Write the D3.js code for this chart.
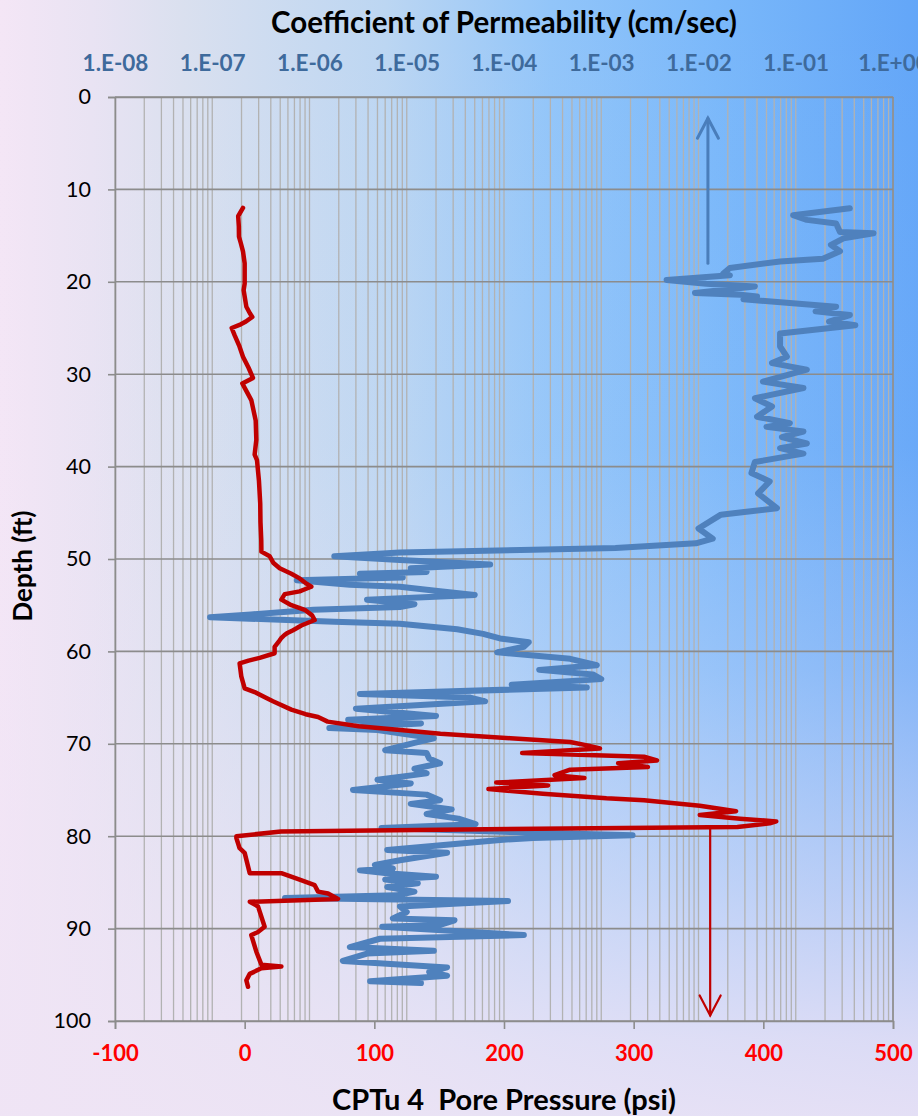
<!DOCTYPE html>
<html><head><meta charset="utf-8">
<script src="https://cdn.jsdelivr.net/npm/d3@7"></script>
<style>html,body{margin:0;padding:0;overflow:hidden;background:#fff}</style>
</head><body><svg id="c" width="918" height="1116"></svg>
<script>
// ---- data ----
const depthTicks = [0,10,20,30,40,50,60,70,80,90,100];
const pressureTicks = [-100,0,100,200,300,400,500];
const permTicks = [1e-8,1e-7,1e-6,1e-5,1e-4,1e-3,1e-2,1e-1,1];
const permTickLabels = ["1.E-08","1.E-07","1.E-06","1.E-05","1.E-04","1.E-03","1.E-02","1.E-01","1.E+00"];

// CPTu 4 pore pressure: depth (ft), pressure (psi)
const poreDepth = [12.0,12.9,14.0,15.1,15.8,16.7,18.0,20.2,20.9,22.7,23.4,23.8,24.3,24.6,25.0,25.8,27.0,28.1,29.3,30.4,31.0,32.0,32.8,35.0,37.1,38.7,39.3,41.5,44.0,46.0,48.0,49.2,49.7,50.4,51.0,51.6,52.1,52.6,53.0,53.3,53.5,53.8,54.4,55.0,55.5,56.1,56.6,57.2,57.5,57.7,58.0,58.2,58.6,58.8,59.5,60.2,60.7,61.0,61.3,62.7,64.0,64.4,65.0,65.4,66.3,66.8,67.1,67.6,68.1,68.5,68.9,69.4,69.8,70.2,70.5,71.0,71.4,71.8,72.1,72.5,72.8,73.4,73.7,74.2,74.5,74.9,75.4,75.9,76.1,76.7,77.3,77.7,78.1,78.4,78.6,79.0,79.3,79.5,80.0,80.2,81.3,81.8,84.0,84.0,84.7,85.3,86.0,86.2,86.8,87.1,87.6,89.8,90.4,90.7,92.5,93.9,94.1,94.3,94.9,95.6,96.3];
const porePsi = [-1.3,-5,-4.5,-4.4,-3,-1.3,0,0,-0.8,1.3,4,5.9,1,-3,-10,-7.7,-4,-1.3,3,6.4,-1.8,2,5.1,8.5,9.0,7.7,9.5,11.0,12,12.2,12.8,12.9,19.3,22,27,36,42.4,47,51.4,46,42.4,30.9,28.3,36,46.3,52,54,43.7,40,37.3,33,30.9,28,27,23.1,23.1,11.6,3,-3.9,-2.6,0,7.7,16,21.8,36,47,56.6,64,88,120,151,205,251,265,274,214,308,318,288,311,251,239,262,194,234,188,230,279,308,351,379,351,382,410,405,380,150,28,-6.4,-6.4,-3.9,0,3.9,28.3,42.4,54,56.6,64.3,72,3.9,10.3,15.4,10,5.1,9,12.9,28.3,12.9,3.9,1.3,2.6];

// Coefficient of permeability: depth (ft), k (cm/sec)
const permDepth = [12.05,12.8,13.3,13.7,14.6,14.75,15.3,16.0,16.7,17.5,17.8,18.5,19.1,19.3,19.8,20.2,20.5,21.2,21.4,21.6,21.9,22.7,23.2,23.6,24.3,24.7,25.6,27.0,28.1,28.8,29.5,30.1,30.8,31.5,32.6,33.5,34.6,35.3,35.7,36.2,36.8,37.5,38.0,38.6,39.5,40.7,41.6,42.9,44.5,45.2,46.7,47.8,48.3,48.8,49.0,49.3,49.7,50.1,50.6,51.0,51.4,51.6,52.0,52.3,52.8,53.0,53.5,53.9,54.4,54.9,55.2,55.5,56.0,56.3,56.5,56.8,57.0,57.6,58.1,58.6,59.0,59.5,60.1,60.8,61.5,62.0,62.5,63.0,63.6,63.9,64.6,65.0,65.4,66.2,67.0,67.4,67.8,68.3,68.5,69.4,69.9,70.7,71.0,71.6,72.1,72.7,73.2,73.9,74.3,75.0,75.5,76.1,76.5,77.1,77.6,78.1,78.7,79.1,79.5,79.9,80.2,80.4,81.5,81.8,82.6,83.1,83.5,83.7,84.0,84.4,84.7,85.1,85.5,86.0,86.4,86.7,87.0,87.6,88.2,88.9,89.1,89.6,89.8,90.7,91.1,92.0,92.4,92.7,93.5,94.2,94.7,95.1,95.7,95.9];
const permK = [0.36,0.094,0.13,0.26,0.285,0.63,0.31,0.23,0.285,0.19,0.069,0.021,0.018,0.021,0.0047,0.012,0.038,0.0092,0.027,0.040,0.029,0.26,0.16,0.36,0.22,0.41,0.069,0.069,0.081,0.057,0.13,0.081,0.046,0.12,0.038,0.057,0.040,0.087,0.050,0.12,0.072,0.13,0.069,0.12,0.038,0.035,0.054,0.041,0.064,0.017,0.010,0.014,0.0094,0.0014,2.0e-4,8.5e-6,1.8e-6,8.5e-6,7.2e-5,1.1e-5,1.6e-5,3.3e-6,9.1e-6,7.4e-7,2.6e-6,8.5e-6,2.2e-5,5.0e-5,3.9e-6,1.2e-5,8.5e-6,1.1e-6,2.5e-7,9.5e-8,3.1e-7,1.8e-6,8.5e-6,3.3e-5,6.1e-5,9.1e-5,1.8e-4,1.6e-4,8.5e-5,4.8e-4,9.0e-4,2.3e-4,8.2e-4,1.0e-3,1.2e-4,7.1e-4,3.3e-6,4.5e-5,6.4e-5,3.0e-6,2.0e-5,2.5e-6,1.4e-5,1.6e-6,5.0e-6,1.9e-5,1.2e-5,6.0e-6,1.6e-5,1.7e-5,2.2e-5,1.2e-5,1.6e-5,5.0e-6,1.1e-5,2.8e-6,1.6e-5,2.2e-5,1.1e-5,2.9e-5,1.6e-5,3.4e-5,5.1e-5,5.5e-6,8.3e-5,2.1e-3,2.0e-4,9.1e-5,6.3e-6,2.6e-5,8.5e-6,4.7e-6,7.2e-6,3.3e-6,6.3e-6,2.0e-5,6.0e-6,1.3e-5,6.3e-6,1.2e-5,7.9e-6,5.6e-7,1.1e-4,8.5e-6,1.0e-5,7.2e-6,3.1e-5,2.2e-5,5.6e-6,1.6e-4,5.3e-6,2.6e-6,1.9e-5,3.9e-6,2.2e-6,2.6e-5,1.7e-5,2.6e-5,4.2e-6,1.4e-5];

// arrows (direction annotations)
const permArrow = {k: 0.0125, fromDepth: 18.0, toDepth: 2.3};
const poreArrow = {psi: 359, fromDepth: 79.2, toDepth: 99.4};

// ---- drawing ----
const W = 918, H = 1116;
const M = {left:115, right:893, top:97, bottom:1021};
const svg = d3.select("#c");
const defs = svg.append("defs");
const FONT = "Lato, 'Open Sans', sans-serif";

const gh = defs.append("linearGradient").attr("id","gh").attr("x1","0").attr("x2","1").attr("y1","0").attr("y2","0");
[[0,"#f4e6f6"],[0.1,"#e9e3f3"],[0.2,"#dae0ef"],[0.42,"#bcd6f2"],[0.6,"#92c5f9"],[0.78,"#7ab8fa"],[1,"#63a6f8"]].forEach(s=>gh.append("stop").attr("offset",s[0]).attr("stop-color",s[1]));
const gv = defs.append("linearGradient").attr("id","gv").attr("x1","0").attr("x2","0").attr("y1","0").attr("y2","1");
[[0,0],[0.4,0.05],[0.6,0.25],[0.8,0.6],[0.93,0.85],[1,0.92]].forEach(s=>gv.append("stop").attr("offset",s[0]).attr("stop-color","#efe4f5").attr("stop-opacity",s[1]));

svg.append("rect").attr("width",W).attr("height",H).attr("fill","url(#gh)");
svg.append("rect").attr("width",W).attr("height",H).attr("fill","url(#gv)");

const y = d3.scaleLinear().domain([0,100]).range([M.top,M.bottom]);
const xP = d3.scaleLinear().domain([-100,500]).range([M.left,M.right]);
const xK = d3.scaleLog().domain([1e-8,1]).range([M.left,M.right]);

// vertical log gridlines
const minor = [];
for (let e=-8;e<0;e++) for (let m=1;m<=9;m++) minor.push(m*Math.pow(10,e));
minor.push(1);
svg.append("g").selectAll("line").data(minor).join("line")
  .attr("x1",d=>xK(d)).attr("x2",d=>xK(d)).attr("y1",M.top).attr("y2",M.bottom)
  .attr("stroke","#b2b2b2").attr("stroke-width",1.3);
// horizontal gridlines
svg.append("g").selectAll("line").data(depthTicks).join("line")
  .attr("x1",M.left).attr("x2",M.right).attr("y1",d=>y(d)).attr("y2",d=>y(d))
  .attr("stroke","#8c8c8c").attr("stroke-width",1.6);
svg.append("line").attr("x1",M.right).attr("x2",M.right).attr("y1",M.top).attr("y2",M.bottom).attr("stroke","#8c8c8c").attr("stroke-width",1.6);

// left axis
const gy = svg.append("g").attr("transform",`translate(${M.left},0)`)
  .call(d3.axisLeft(y).tickValues(depthTicks).tickSize(7).tickPadding(17).tickFormat(d=>String(d)));
gy.select(".domain").attr("stroke","#8c8c8c").attr("stroke-width",1.6);
gy.selectAll(".tick line").attr("stroke","#8c8c8c").attr("stroke-width",1.6);
gy.selectAll(".tick text").attr("font-family",FONT).attr("font-size",21.5).attr("fill","#000");

// bottom axis
const gx = svg.append("g").attr("transform",`translate(0,${M.bottom})`)
  .call(d3.axisBottom(xP).tickValues(pressureTicks).tickSize(8).tickPadding(16).tickFormat(d=>String(d)));
gx.select(".domain").attr("stroke","#8c8c8c").attr("stroke-width",1.6);
gx.selectAll(".tick line").attr("stroke","#8c8c8c").attr("stroke-width",1.6);
gx.selectAll(".tick text").attr("font-family",FONT).attr("font-weight","bold").attr("font-size",22).attr("fill","#ff0000");

// top axis
const gt = svg.append("g").attr("transform",`translate(0,${M.top})`)
  .call(d3.axisTop(xK).tickValues(permTicks).tickSize(0).tickPadding(26).tickFormat((d,i)=>permTickLabels[i]));
gt.select(".domain").attr("stroke","#8c8c8c").attr("stroke-width",1.6);
gt.selectAll(".tick text").attr("font-family",FONT).attr("font-weight","bold").attr("font-size",22.5).attr("fill","#3e6a9c");

// series
const permData = permDepth.map((d,i)=>({d, k:permK[i]}));
const poreData = poreDepth.map((d,i)=>({d, p:porePsi[i]}));
svg.append("path").datum(permData)
  .attr("d", d3.line().x(v=>xK(v.k)).y(v=>y(v.d)))
  .attr("fill","none").attr("stroke","#4f81bd").attr("stroke-width",6).attr("stroke-linejoin","round").attr("stroke-linecap","round");
svg.append("path").datum(poreData)
  .attr("d", d3.line().x(v=>xP(v.p)).y(v=>y(v.d)))
  .attr("fill","none").attr("stroke","#c00000").attr("stroke-width",4.5).attr("stroke-linejoin","round").attr("stroke-linecap","round");

// arrows
function arrow(x, y1, y2, color, w){
  const dir = Math.sign(y2-y1);
  const g = svg.append("g").attr("stroke",color).attr("stroke-width",w).attr("fill","none").attr("stroke-linecap","round");
  g.append("line").attr("x1",x).attr("x2",x).attr("y1",y1).attr("y2",y2);
  g.append("path").attr("d",`M${x-10.5},${y2-dir*20} L${x},${y2} L${x+10.5},${y2-dir*20}`);
}
arrow(xK(permArrow.k), y(permArrow.fromDepth), y(permArrow.toDepth), "#4a7ebb", 3);
arrow(xP(poreArrow.psi), y(poreArrow.fromDepth), y(poreArrow.toDepth), "#c00000", 2.2);

// titles
svg.append("text").attr("x",504).attr("y",33).attr("text-anchor","middle")
  .attr("font-family",FONT).attr("font-weight","bold").attr("font-size",29.5).attr("fill","#000")
  .text("Coefficient of Permeability (cm/sec)");
svg.append("text").attr("x",504).attr("y",1110).attr("text-anchor","middle")
  .attr("font-family",FONT).attr("font-weight","bold").attr("font-size",29).attr("fill","#000")
  .attr("xml:space","preserve").text("CPTu 4  Pore Pressure (psi)");
svg.append("text").attr("transform",`translate(32,${566}) rotate(-90)`).attr("text-anchor","middle")
  .attr("font-family",FONT).attr("font-weight","bold").attr("font-size",26).attr("fill","#000")
  .text("Depth (ft)");
</script></body></html>
